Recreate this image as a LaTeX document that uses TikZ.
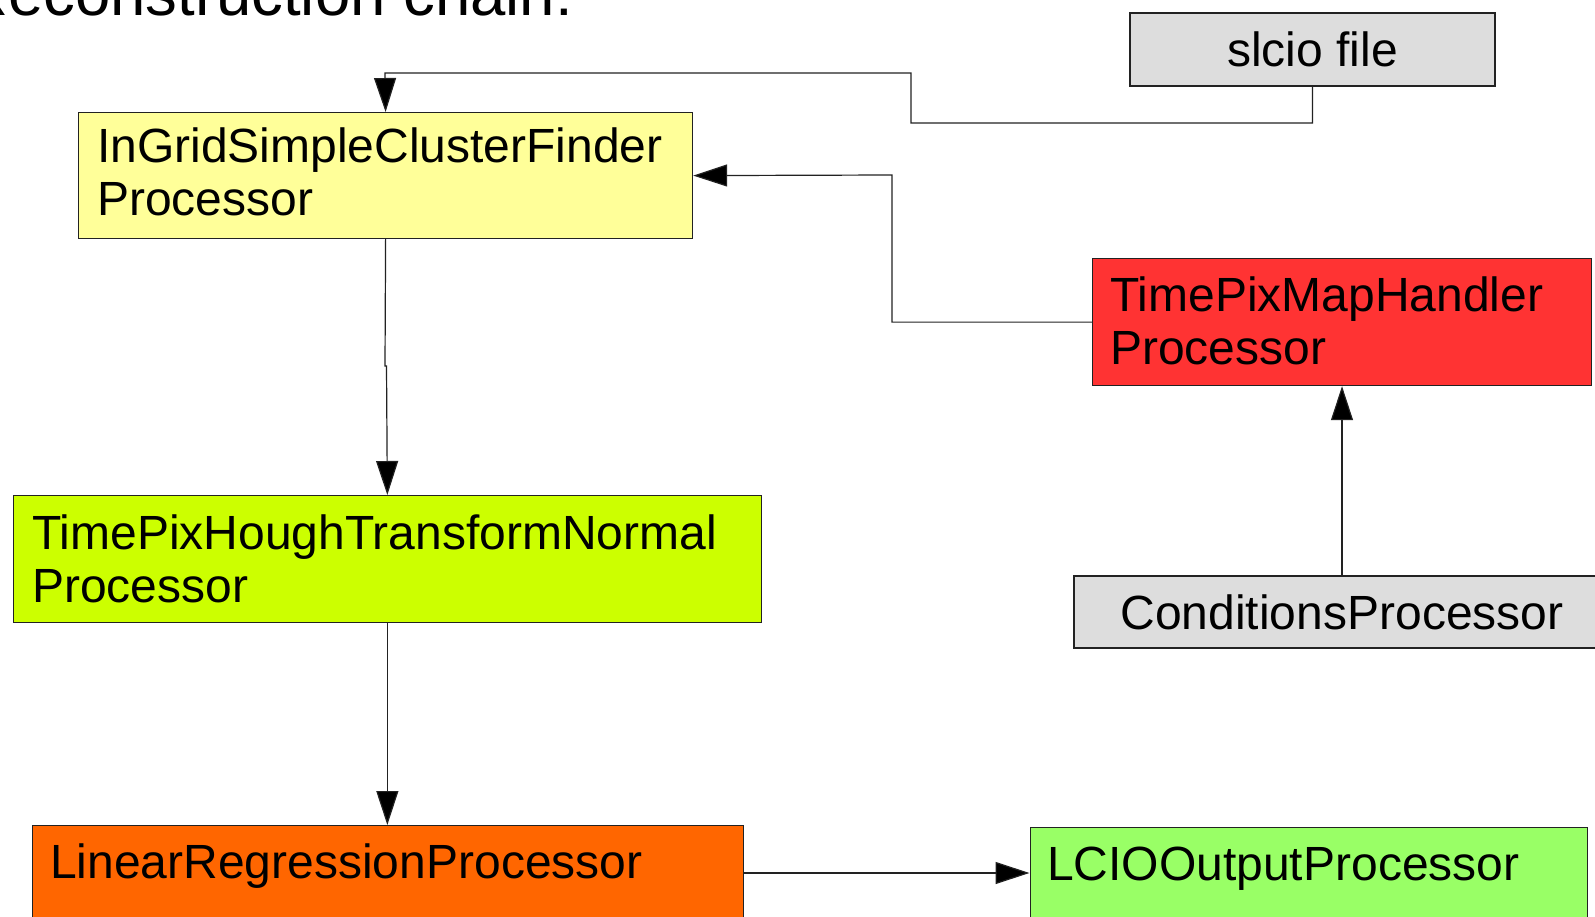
\documentclass[tikz,border=0pt]{standalone}
\usepackage{fontspec}
\setmainfont{Liberation Sans}
\usetikzlibrary{arrows.meta}
\definecolor{cyellow}{HTML}{FFFF99}
\definecolor{chough}{HTML}{CCFF00}
\definecolor{cred}{HTML}{FF3333}
\definecolor{corange}{HTML}{FF6600}
\definecolor{cgreen}{HTML}{99FF66}
\definecolor{cgray}{HTML}{DDDDDD}
\definecolor{cline}{HTML}{222222}
\newcommand\bodyfnt{\fontsize{48}{53}\selectfont}
\newcommand\titlefnt{\fontsize{63.5}{70}\selectfont}
\begin{document}
\begin{tikzpicture}[x=1pt,y=-1pt,
  procbox/.style={draw=cline, line width=1.2pt, inner sep=0pt, anchor=north west},
  lbl/.style={inner sep=0pt, anchor=base west, font=\bodyfnt},
  arr/.style={draw=cline, line width=1.2pt, -{Triangle[length=34pt,width=22pt,fill=black]}}]
\useasboundingbox (0,0) rectangle (1595,917);
\fill[white] (0,0) rectangle (1595,917);
% title
\node[inner sep=0pt, anchor=base west, font=\titlefnt] (title) at (-38,16) {Reconstruction chain:};
% boxes
\node[procbox, fill=cgray, minimum width=365pt, minimum height=73pt, anchor=center, font=\bodyfnt] (slcio) at (1312.5,49.5) {slcio file};
\node[procbox, fill=cyellow, minimum width=614pt, minimum height=126pt] (ingrid) at (78,112) {};
\node[lbl] (ingridA) at (97,163) {InGridSimpleClusterFinder};
\node[lbl] (ingridB) at (97,216) {Processor};
\node[procbox, fill=cred, minimum width=499pt, minimum height=127pt] (maph) at (1092,258) {};
\node[lbl] (maphA) at (1110,311.5) {TimePixMapHandler};
\node[lbl] (maphB) at (1110,364.5) {Processor};
\node[procbox, fill=chough, minimum width=748.5pt, minimum height=127pt] (hough) at (12.5,495) {};
\node[lbl] (houghA) at (32,549) {TimePixHoughTransformNormal};
\node[lbl] (houghB) at (32,602) {Processor};
\node[procbox, fill=cgray, minimum width=536pt, minimum height=72pt, anchor=center, font=\bodyfnt] (cond) at (1342,612) {ConditionsProcessor};
\node[procbox, fill=corange, minimum width=711pt, minimum height=127pt] (linear) at (31.5,825) {};
\node[lbl] (linearA) at (50,878) {LinearRegressionProcessor};
\node[procbox, fill=cgreen, minimum width=557.5pt, minimum height=127pt] (lcio) at (1029.5,827) {};
\node[lbl] (lcioA) at (1047,880) {LCIOOutputProcessor};
% connectors
\coordinate (s1) at (911,123);
\coordinate (s2) at (385,73);
\draw[arr] (slcio.south) |- (s1) |- (s2) -- (ingrid.north);
\coordinate (m1) at (892,175);
\draw[arr] (maph.west) -| (m1) -- (ingrid.east);
\coordinate (g1) at (385,366);
\coordinate (g2) at (386.5,366);
\draw[arr] (ingrid.south) -- (g1) -- (g2) -- (hough.north);
\draw[arr] (hough.south) -- (hough.south |- linear.north);
\coordinate (ly) at (0,873);
\draw[arr] (linear.east |- ly) -- (lcio.west |- ly);
\draw[arr] (cond.north) -- (cond.north |- maph.south);
\end{tikzpicture}
\end{document}
